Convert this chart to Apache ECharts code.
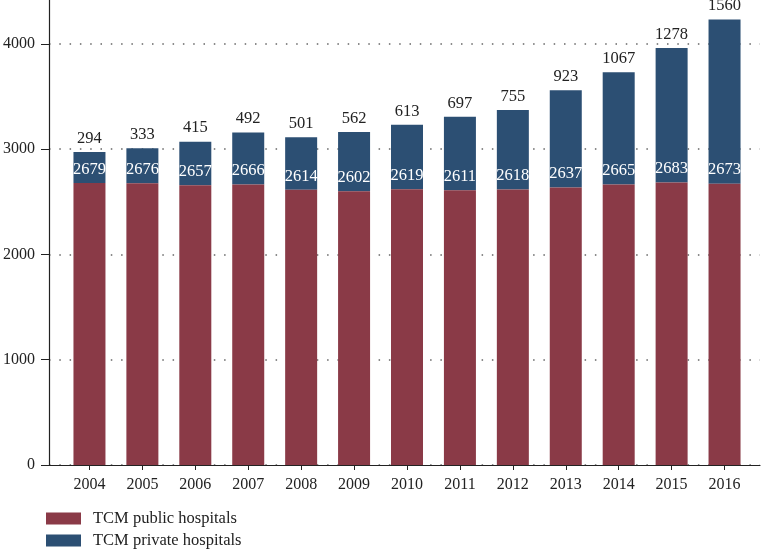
<!DOCTYPE html>
<html><head><meta charset="utf-8">
<script src="https://cdn.jsdelivr.net/npm/echarts@6/dist/echarts.min.js"></script>
<style>html,body{margin:0;padding:0;background:#fff}#c{width:767px;height:549px}</style>
</head><body><div id="c"></div>
<script>
const years = ['2004','2005','2006','2007','2008','2009','2010','2011','2012','2013','2014','2015','2016'];
const publicHospitals = [2679,2676,2657,2666,2614,2602,2619,2611,2618,2637,2665,2683,2673];
const privateHospitals = [294,333,415,492,501,562,613,697,755,923,1067,1278,1560];
const seriesNames = ['TCM public hospitals', 'TCM private hospitals'];
const yTicks = [0,1000,2000,3000,4000];

const FONT = '"Liberation Serif", "DejaVu Serif", serif';
const legendBase = {
  orient: 'vertical', left: 46, padding: 0, itemWidth: 35, itemHeight: 12,
  icon: 'rect',
  textStyle: {fontFamily: FONT, fontSize: 16.5, color: '#222', padding: [0,0,0,7]}
};
const chart = echarts.init(document.getElementById('c'));
chart.setOption({
  animation: false,
  textStyle: {fontFamily: FONT},
  grid: [
    {left: 46, right: 7, top: 0, bottom: 84},
    {left: 63, right: 16, top: 0, bottom: 84}
  ],
  legend: [
    Object.assign({}, legendBase, {top: 510, data: [seriesNames[0]]}),
    Object.assign({}, legendBase, {top: 532, data: [seriesNames[1]]})
  ],
  xAxis: [
    {gridIndex: 0, type: 'value', min: 0, max: 1,
     axisLine: {show: true, lineStyle: {color: '#222', width: 1.2}},
     axisTick: {show: false}, axisLabel: {show: false}, splitLine: {show: false}},
    {gridIndex: 1, type: 'category', data: years,
     axisLine: {show: false},
     axisTick: {show: true, alignWithLabel: true, length: 5, lineStyle: {color: '#222'}},
     axisLabel: {color: '#222', fontFamily: FONT, fontSize: 16, margin: 12},
     splitLine: {show: false}}
  ],
  yAxis: [
    {gridIndex: 0, type: 'value', min: 0, max: 4418, interval: 1000,
     axisLine: {show: true, lineStyle: {color: '#222', width: 1.2}},
     axisTick: {show: true, length: 8, customValues: yTicks, lineStyle: {color: '#222'}},
     axisLabel: {color: '#222', fontFamily: FONT, fontSize: 16, margin: 14, customValues: yTicks,
                 formatter: v => String(v)},
     splitLine: {show: true, lineStyle: {color: '#666', type: [1.5, 8.8], width: 1.5}}},
    {gridIndex: 1, type: 'value', min: 0, max: 4418, interval: 1000, show: false,
     splitLine: {show: false}}
  ],
  series: [
    {name: seriesNames[0], type: 'bar', stack: 't', xAxisIndex: 1, yAxisIndex: 1,
     z: 3, barWidth: 32, data: publicHospitals,
     itemStyle: {color: '#8A3A47'},
     label: {show: true, position: 'top', distance: 5, color: '#fff', fontFamily: FONT, fontSize: 16.5}},
    {name: seriesNames[1], type: 'bar', stack: 't', xAxisIndex: 1, yAxisIndex: 1,
     barWidth: 32, data: privateHospitals,
     itemStyle: {color: '#2C4F73'},
     label: {show: true, position: 'top', distance: 5, color: '#222', fontFamily: FONT, fontSize: 16.5}}
  ]
});
</script></body></html>
